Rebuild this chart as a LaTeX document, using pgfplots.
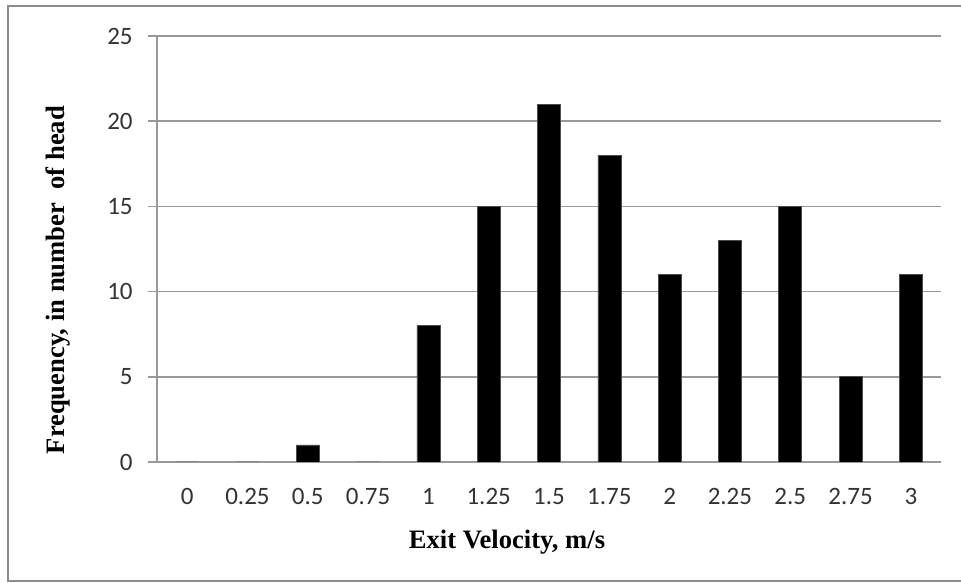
\documentclass[border=0pt]{standalone}
\usepackage{fontspec}
\setmainfont{Carlito}
\newfontfamily\tnr{Liberation Serif}
\usepackage{pgfplots}
\pgfplotsset{compat=1.18}
\definecolor{axgray}{HTML}{999999}
\definecolor{framegray}{HTML}{8C8C8C}
\begin{document}
\begin{tikzpicture}
\useasboundingbox (-78.5pt,-60pt) rectangle (402pt,231pt);
\begin{axis}[
  at={(0,0)}, anchor=south west,
  scale only axis,
  width=392pt, height=213pt,
  xmin=-0.5, xmax=12.5,
  ymin=0, ymax=25,
  ytick={0,5,...,25},
  xtick={0,...,12},
  xticklabels={0,0.25,0.5,0.75,1,1.25,1.5,1.75,2,2.25,2.5,2.75,3},
  minor xtick={-0.5,0.5,...,12.5},
  axis x line*=bottom, axis y line*=left,
  axis line style={axgray, line width=0.75pt, -},
  tick align=outside,
  xtick style={draw=none},
  minor tick length=4pt,
  minor x tick style={axgray, line width=0.75pt},
  major tick length=4.5pt,
  ytick style={axgray, line width=0.75pt},
  ymajorgrids,
  grid style={axgray, line width=0.75pt},
  /pgf/number format/assume math mode=true,
  tick label style={font=\fontsize{12.5}{14}\selectfont, text=black!80},
  xticklabel style={anchor=base, inner sep=0pt, yshift=-17pt},
  yticklabel style={anchor=east, inner sep=0pt, xshift=-7.5pt},
  xlabel={Exit Velocity, m/s},
  ylabel={Frequency, in number\ \ of head},
  label style={font=\tnr\bfseries\fontsize{13.3}{15}\selectfont},
  xlabel style={at={(axis description cs:0.4464,-0.2019)}, anchor=base},
  ylabel style={at={(axis description cs:-0.1186,0.427)}, anchor=base},
]
\addplot[ybar, bar width=11.5pt, fill=black, draw=black!70, line width=0.3pt, bar shift=0pt]
  coordinates {(0,0) (1,0) (2,1) (3,0) (4,8) (5,15) (6,21) (7,18) (8,11) (9,13) (10,15) (11,5) (12,11)};
\end{axis}
\draw[framegray, line width=1pt] (410pt,228pt) -- (-74.5pt,228pt) -- (-74.5pt,-59.5pt) -- (410pt,-59.5pt);
\end{tikzpicture}
\end{document}
